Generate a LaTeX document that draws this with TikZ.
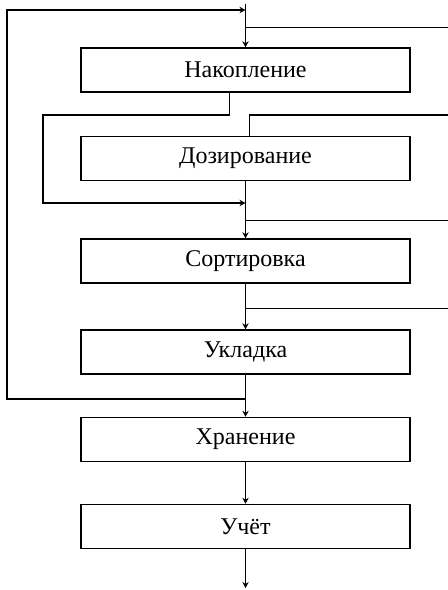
\documentclass[tikz,border=0pt]{standalone}
\usepackage{fontspec}
\setmainfont{Liberation Serif}
\usepackage{tikz}
\usetikzlibrary{arrows.meta,calc,positioning}

\begin{document}
\begin{tikzpicture}[x=0.5pt,y=-0.5pt,
  box/.style={draw,line width=0.75pt,minimum width=164.5pt,minimum height=22pt,
    inner sep=0pt,text centered,font=\fontsize{12}{14}\selectfont},
  arr/.style={-{Stealth[length=3pt,width=3.2pt,inset=1pt]},line width=0.7pt},
  ln/.style={line width=0.7pt},
  thin ln/.style={line width=0.5pt}
]
\useasboundingbox (0,0) rectangle (448,590);

\node[box] (nak)   at (245.5,70)    {Накопление};
\node[box] (doz)   at (245.5,158.5) {Дозирование};
\node[box] (sort)  at (245.5,261)   {Сортировка};
\node[box] (ukl)   at (245.5,352)   {Укладка};
\node[box] (hran)  at (245.5,439.5) {Хранение};
\node[box] (uchet) at (245.5,526.5) {Учёт};

% free ends
\coordinate (top) at (245.5,4);
\coordinate (out) at (245.5,588);
\coordinate (fbl) at (7,10);
\coordinate (fbj) at (245.5,399);
\coordinate (byl) at (43,115);
\coordinate (byj) at (245.5,203);
\coordinate (r1) at (448,27);
\coordinate (r2) at (448,115);
\coordinate (r3) at (448,220);
\coordinate (r4) at (448,308);

% main chain
\draw[arr] (top) -- (nak);
\draw[arr] (doz) -- (sort);
\draw[arr] (sort) -- (ukl);
\draw[arr] (ukl) -- (hran);
\draw[arr] (hran) -- (uchet);
\draw[arr] (uchet) -- (out);

% loop back to the top
\draw[arr] (fbj) -| (fbl) -- (fbl -| top);

% bypass round Дозирование
\draw[arr] ([xshift=-8pt]nak.south) |- (byl) |- (byj);

% inputs from the right
\draw[thin ln] (r1) -- (r1 -| nak);
\draw[ln] (r2) -| ([xshift=2pt]doz.north);
\draw[thin ln] (r3) -- (r3 -| doz);
\draw[thin ln] (r4) -- (r4 -| sort);
\end{tikzpicture}
\end{document}
